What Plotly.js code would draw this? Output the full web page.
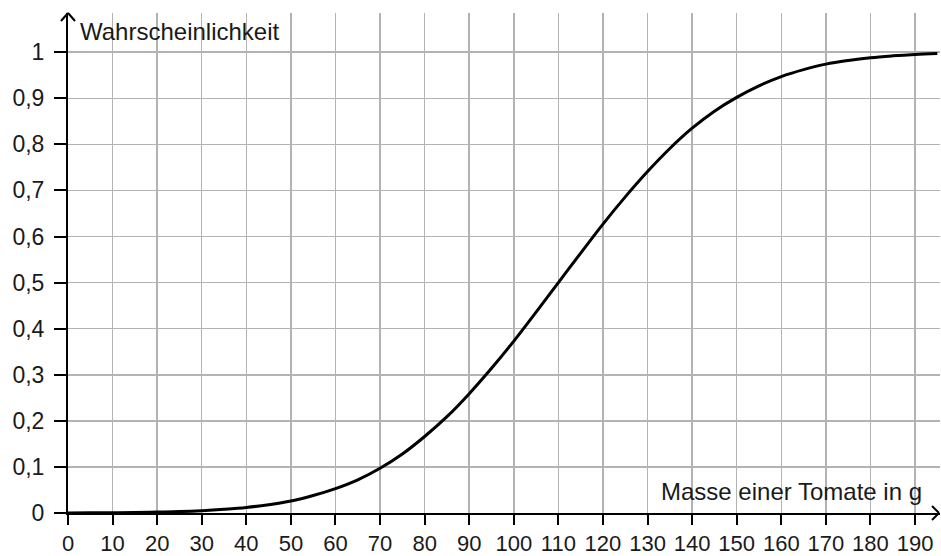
<!DOCTYPE html>
<html>
<head>
<meta charset="utf-8">
<script src="https://cdn.plot.ly/plotly-3.0.1.min.js"></script>
<style>html,body{margin:0;padding:0;background:#fff;}#chart{width:941px;height:556px;}</style>
</head>
<body>
<div id="chart"></div>
<script>
// Masse einer Tomate in g
var masse = [0,5,10,15,20,25,30,35,40,45,50,55,60,65,70,75,80,85,90,95,100,105,110,115,120,125,130,135,140,145,150,155,160,165,170,175,180,185,190,195];
// Wahrscheinlichkeit
var wahrscheinlichkeit = [0.0002,0.0003,0.0006,0.001,0.002,0.003,0.005,0.008,0.012,0.018,0.026,0.038,0.053,0.072,0.097,0.128,0.166,0.209,0.259,0.314,0.373,0.436,0.5,0.564,0.627,0.686,0.741,0.791,0.835,0.872,0.902,0.927,0.947,0.962,0.974,0.982,0.988,0.992,0.995,0.997];
var xTickVals = [0,10,20,30,40,50,60,70,80,90,100,110,120,130,140,150,160,170,180,190];
var xTickText = ['0','10','20','30','40','50','60','70','80','90','100','110','120','130','140','150','160','170','180','190'];
var yTickVals = [0,0.1,0.2,0.3,0.4,0.5,0.6,0.7,0.8,0.9,1];
var yTickText = ['0','0,1','0,2','0,3','0,4','0,5','0,6','0,7','0,8','0,9','1'];
var xTitle = 'Masse einer Tomate in g';
var yTitle = 'Wahrscheinlichkeit';

var fontFam = '"Liberation Sans", Arial, Helvetica, sans-serif';
var textCol = '#1a1a1a';

var trace = {
  x: masse, y: wahrscheinlichkeit, type: 'scatter', mode: 'lines',
  line: {color: '#000', width: 3, shape: 'spline', smoothing: 1},
  hoverinfo: 'skip', cliponaxis: false
};

var xMax = 195.6, yMax = 1.085;

function chevLine(anchorX, anchorY, x0, y0, x1, y1) {
  return {type: 'line', xref: 'paper', yref: 'paper', xsizemode: 'pixel', ysizemode: 'pixel',
          xanchor: anchorX, yanchor: anchorY, x0: x0, y0: y0, x1: x1, y1: y1,
          line: {color: '#000', width: 2}, layer: 'above'};
}

var layout = {
  width: 941, height: 556,
  margin: {l: 68, r: 1, t: 13, b: 43, pad: 0},
  paper_bgcolor: '#fff', plot_bgcolor: '#fff',
  showlegend: false,
  font: {family: fontFam, color: textCol, size: 22},
  xaxis: {
    range: [0, xMax], tickvals: xTickVals, ticktext: xTickText,
    showgrid: true, gridcolor: '#b3b3b3', gridwidth: 1.5,
    zeroline: false, showline: true, linecolor: '#000', linewidth: 2,
    ticks: 'outside', ticklen: 10, tickwidth: 2, tickcolor: '#000',
    tickfont: {family: fontFam, size: 22, color: textCol},
    fixedrange: true
  },
  yaxis: {
    range: [0, yMax], tickvals: yTickVals, ticktext: yTickText,
    showgrid: true, gridcolor: '#b3b3b3', gridwidth: 1.5,
    zeroline: false, showline: true, linecolor: '#000', linewidth: 2,
    ticks: 'outside', ticklen: 12, tickwidth: 2, tickcolor: '#000',
    ticklabelstandoff: 5,
    tickfont: {family: fontFam, size: 23, color: textCol},
    fixedrange: true
  },
  shapes: [
    chevLine(1, 0, -1, 0, -8, 7),
    chevLine(1, 0, -1, 0, -8, -7),
    chevLine(0, 1, 0, 0, -7, -8),
    chevLine(0, 1, 0, 0, 7, -8)
  ],
  annotations: [
    {text: yTitle, xref: 'paper', yref: 'paper', x: 0.011, y: 0.995, xanchor: 'left', yanchor: 'top',
     showarrow: false, font: {family: fontFam, size: 24, color: textCol}},
    {text: xTitle, xref: 'paper', yref: 'paper', x: 0.982, y: 0.012, xanchor: 'right', yanchor: 'bottom',
     showarrow: false, font: {family: fontFam, size: 24, color: textCol}}
  ]
};

Plotly.newPlot('chart', [trace], layout, {displayModeBar: false, staticPlot: true});
</script>
</body>
</html>
